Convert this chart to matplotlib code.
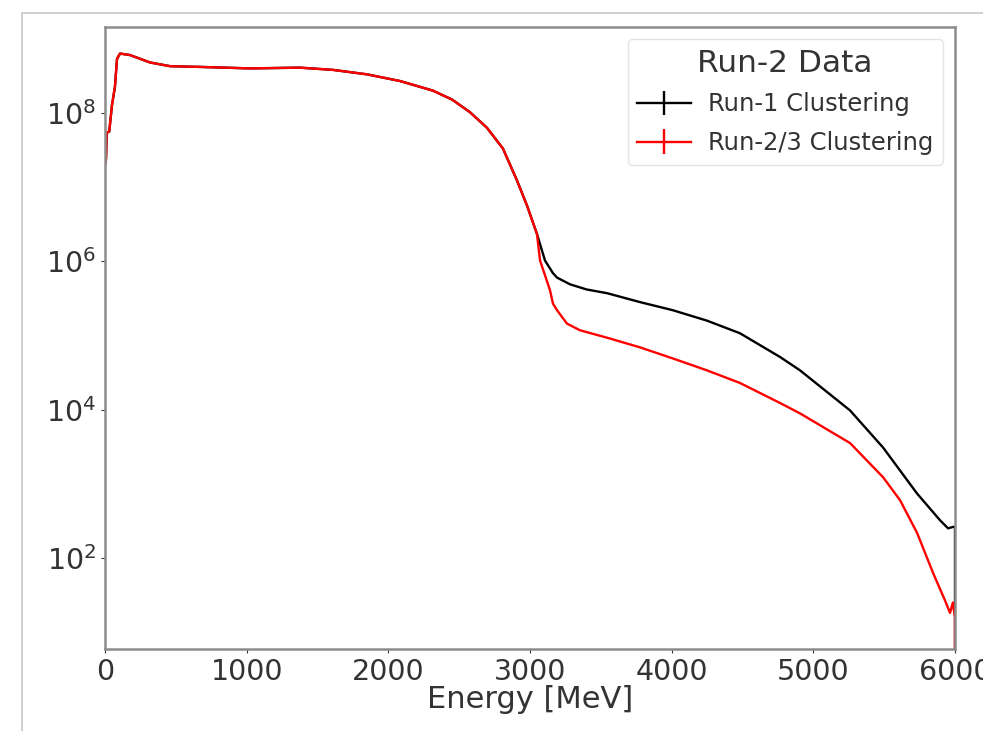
import matplotlib
matplotlib.use("Agg")
import matplotlib.pyplot as plt
from matplotlib.patches import Rectangle
import numpy as np

# Energy [MeV] and log10(counts)
energy_run1 = [0, 7, 12, 30, 49, 70, 85, 106, 176, 318, 459, 670, 1024, 1376, 1609, 1849,
               2082, 2315, 2450, 2576, 2696, 2809, 2908, 2979, 3049, 3106, 3162, 3191, 3282,
               3400, 3544, 3776, 4009, 4249, 4482, 4765, 4906, 5259, 5492, 5732, 5894, 5951,
               5986, 6000, 6000]
log_run1 = [7.30, 7.38, 7.73, 7.75, 8.10, 8.35, 8.73, 8.80, 8.78, 8.68, 8.63, 8.62, 8.60, 8.61,
            8.58, 8.52, 8.43, 8.30, 8.18, 8.01, 7.80, 7.52, 7.09, 6.75, 6.37, 6.01, 5.84, 5.78,
            5.69, 5.62, 5.57, 5.45, 5.34, 5.20, 5.03, 4.71, 4.53, 3.99, 3.49, 2.87, 2.51, 2.40,
            2.42, 2.42, 0.0]

energy_run23 = [0, 7, 12, 30, 49, 70, 85, 106, 176, 318, 459, 670, 1024, 1376, 1609, 1849,
                2082, 2315, 2450, 2576, 2696, 2809, 2908, 2979, 3049, 3071, 3141, 3162, 3191,
                3261, 3353, 3544, 3776, 4009, 4249, 4482, 4765, 4906, 5259, 5492, 5612, 5732,
                5845, 5929, 5965, 5985, 6000, 6000]
log_run23 = [7.30, 7.38, 7.73, 7.75, 8.10, 8.35, 8.73, 8.80, 8.78, 8.68, 8.63, 8.62, 8.60, 8.61,
             8.58, 8.52, 8.43, 8.30, 8.18, 8.01, 7.80, 7.52, 7.09, 6.75, 6.37, 6.01, 5.61, 5.43,
             5.34, 5.16, 5.07, 4.97, 4.84, 4.69, 4.53, 4.36, 4.09, 3.95, 3.55, 3.09, 2.78, 2.34,
             1.80, 1.43, 1.26, 1.40, 1.20, 0.0]

series_labels = ["Run-1 Clustering", "Run-2/3 Clustering"]
series_colors = ["black", "red"]
legend_title = "Run-2 Data"
x_label = "Energy [MeV]"

fig = plt.figure(figsize=(9.83, 7.31), dpi=100)
# outer grey frame of the screenshot
fig.patches.append(Rectangle((22 / 983, -0.2), 2.0, 1 - 13 / 731 + 0.2, transform=fig.transFigure,
                             fill=False, edgecolor="#c8c8c8", linewidth=1.2))

ax = fig.add_axes([105 / 983, 1 - 649 / 731, (955 - 105) / 983, (649 - 27) / 731])

for e, lg, lab, col in [(energy_run1, log_run1, series_labels[0], series_colors[0]),
                        (energy_run23, log_run23, series_labels[1], series_colors[1])]:
    y = 10 ** np.array(lg)
    ax.errorbar(e, y, yerr=np.zeros_like(y), color=col, linewidth=1.7, label=lab)

ax.set_yscale("log")
ax.set_xlim(0, 6000)
ax.set_ylim(10 ** 0.774, 10 ** 9.158)
ax.set_yticks([1e2, 1e4, 1e6, 1e8])
ax.minorticks_off()
ax.set_xticks([0, 1000, 2000, 3000, 4000, 5000, 6000])
ax.tick_params(labelsize=20.5, colors="#333333", length=3, width=0.8)
for s in ax.spines.values():
    s.set_color("#8c8c8c")
    s.set_linewidth(1.8)
ax.set_xlabel(x_label, fontsize=22, color="#333333", labelpad=-1)

leg = ax.legend(title=legend_title, fontsize=17.5, title_fontsize=22.5, loc="upper right",
                borderaxespad=0.5, frameon=True, handlelength=2.2, handletextpad=0.7,
                labelspacing=0.6, borderpad=0.4)
leg.get_frame().set_edgecolor("#dddddd")
for t in leg.get_texts():
    t.set_color("#333333")
leg.get_title().set_color("#333333")

fig.savefig("out.png", dpi=100)
